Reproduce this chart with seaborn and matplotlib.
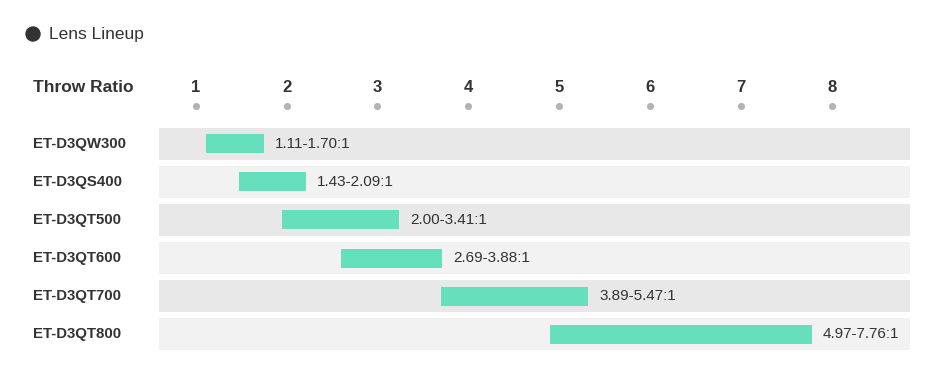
import matplotlib
matplotlib.use("Agg")
import matplotlib.pyplot as plt
import matplotlib.transforms as mtransforms
from matplotlib.patches import Ellipse
import seaborn as sns
import pandas as pd

# ---- data ----
models = ["ET-D3QW300", "ET-D3QS400", "ET-D3QT500", "ET-D3QT600", "ET-D3QT700", "ET-D3QT800"]
range_labels = ["1.11-1.70:1", "1.43-2.09:1", "2.00-3.41:1", "2.69-3.88:1", "3.89-5.47:1", "4.97-7.76:1"]
bar_start = [1.11, 1.48, 1.95, 2.60, 3.70, 4.90]
bar_end = [1.75, 2.21, 3.24, 3.71, 5.32, 7.78]
ratio_ticks = [1, 2, 3, 4, 5, 6, 7, 8]
legend_title = "Lens Lineup"
header_label = "Throw Ratio"

sns.set_theme(style="white")
plt.rcParams["font.family"] = ["Liberation Sans", "DejaVu Sans"]

TXT = "#333333"
BAR = "#66dfbd"
BAND_DARK = "#e8e8e8"
BAND_LIGHT = "#f2f2f2"
DOT = "#b3b3b3"

W, H = 936, 380
fig = plt.figure(figsize=(W / 100, H / 100), dpi=100)
fig.patch.set_facecolor("white")
ax = fig.add_axes([159 / W, 1 - 350 / H, (910 - 159) / W, (350 - 128) / H])
ax.set_facecolor("white")

df = pd.DataFrame({"model": models, "start": bar_start, "end": bar_end, "label": range_labels})
df["span"] = df["end"] - df["start"]

sns.barplot(data=df, x="span", y="model", orient="h", color=BAR, width=0.5,
            saturation=1, ax=ax, zorder=2, linewidth=0)
for p, s in zip(ax.containers[0], df["start"]):
    p.set_x(s)

ax.set_xlim(0.596, 8.862)
ax.set_ylim(5.421, -0.421)

# background bands
for i in range(len(models)):
    ax.axhspan(i - 0.421, i + 0.421, xmin=0, xmax=1,
               color=BAND_DARK if i % 2 == 0 else BAND_LIGHT, lw=0, zorder=0)

for i, (e, lab) in enumerate(zip(df["end"], df["label"])):
    ax.annotate(lab, xy=(e, i), xytext=(8, 0), textcoords="offset points",
                ha="left", va="center", fontsize=11, color=TXT)

for s in ax.spines.values():
    s.set_visible(False)
ax.set_xticks([])
ax.set_yticks([])
ax.set_xlabel("")
ax.set_ylabel("")

# row labels
blend = mtransforms.blended_transform_factory(fig.transFigure, ax.transData)
for i, m in enumerate(models):
    ax.text(33 / W, i, m, transform=blend, ha="left", va="center",
            fontsize=10.8, fontweight="bold", color=TXT)

# header: tick numbers and dots
y_num = (88 - 144) / 38
y_dot = (105.7 - 144) / 38
for t in ratio_ticks:
    ax.text(t, y_num, str(t), ha="center", va="center", fontsize=12,
            fontweight="bold", color=TXT, clip_on=False)
ax.scatter(ratio_ticks, [y_dot] * len(ratio_ticks), s=26, color=DOT,
           linewidths=0, clip_on=False, zorder=3)
ax.text(33 / W, y_num, header_label, transform=blend, ha="left", va="center",
        fontsize=12.5, fontweight="bold", color=TXT)

# legend
fig.patches.append(Ellipse((33 / W, 1 - 34 / H), 14 / W, 14 / H,
                           transform=fig.transFigure, color=TXT, zorder=5))
fig.text(49 / W, 1 - 34 / H, legend_title, ha="left", va="center",
         fontsize=12.5, color=TXT)

fig.savefig("out.png", dpi=100, facecolor="white")
